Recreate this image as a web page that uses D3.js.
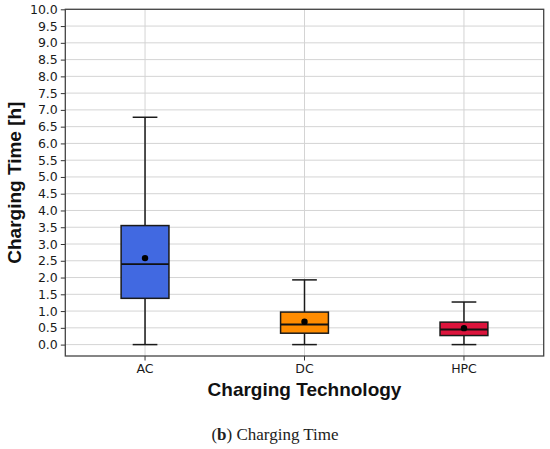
<!DOCTYPE html>
<html>
<head>
<meta charset="utf-8">
<script src="https://cdn.jsdelivr.net/npm/d3@7"></script>
<style>
  html, body { margin: 0; padding: 0; background: #fff; }
  svg { display: block; }
</style>
</head>
<body>
<div id="chart"></div>
<script>
// box plot stats
const categories = ['AC', 'DC', 'HPC'];
const whiskerLow = [0, 0, 0];
const q1 = [1.38, 0.34, 0.27];
const median = [2.40, 0.60, 0.45];
const q3 = [3.55, 0.97, 0.67];
const whiskerHigh = [6.78, 1.93, 1.27];
const means = [2.58, 0.68, 0.49];
const boxColors = ['#4169E1', '#FF8C00', '#DC143C'];
const yTickValues = [0, 0.5, 1, 1.5, 2, 2.5, 3, 3.5, 4, 4.5, 5, 5.5, 6, 6.5, 7, 7.5, 8, 8.5, 9, 9.5, 10];

const width = 550, height = 449;
const plot = { left: 65.3, right: 543.7, top: 9.3, bottom: 356 };

const svg = d3.select('#chart').append('svg')
  .attr('width', width)
  .attr('height', height);

const x = d3.scaleBand()
  .domain(categories)
  .range([plot.left, plot.right])
  .padding(0);

const y = d3.scaleLinear()
  .domain([-0.34, 10])
  .range([plot.bottom, plot.top]);

const cx = c => x(c) + x.bandwidth() / 2;
const boxW = x.bandwidth() * 0.3;
const capW = x.bandwidth() * 0.155;

// Grid
const grid = svg.append('g');
grid.selectAll('.hgrid')
  .data(yTickValues)
  .enter()
  .append('line')
  .attr('x1', plot.left)
  .attr('x2', plot.right)
  .attr('y1', d => y(d))
  .attr('y2', d => y(d))
  .attr('stroke', '#d4d4d4')
  .attr('stroke-width', 1);
grid.selectAll('.vgrid')
  .data(categories)
  .enter()
  .append('line')
  .attr('x1', d => cx(d))
  .attr('x2', d => cx(d))
  .attr('y1', plot.top)
  .attr('y2', plot.bottom)
  .attr('stroke', '#d4d4d4')
  .attr('stroke-width', 1);

// Axes
const yAxis = svg.append('g')
  .attr('transform', `translate(${plot.left},0)`)
  .call(d3.axisLeft(y).tickValues(yTickValues).tickFormat(d3.format('.1f')).tickSize(4.5).tickPadding(3));
const xAxis = svg.append('g')
  .attr('transform', `translate(0,${plot.bottom})`)
  .call(d3.axisBottom(x).tickSize(4.5).tickPadding(3.5));

[yAxis, xAxis].forEach(a => {
  a.select('.domain').remove();
  a.selectAll('text')
    .style('font-family', '"DejaVu Sans", sans-serif')
    .style('font-size', '12.5px')
    .attr('fill', '#1a1a1a');
  a.selectAll('line').attr('stroke', '#333');
});

// Boxes
const boxes = svg.append('g')
  .selectAll('g')
  .data(categories.map((c, i) => ({
    cat: c, lo: whiskerLow[i], q1: q1[i], med: median[i], q3: q3[i],
    hi: whiskerHigh[i], mean: means[i], color: boxColors[i]
  })))
  .enter()
  .append('g');

// whiskers
boxes.append('line')
  .attr('x1', d => cx(d.cat)).attr('x2', d => cx(d.cat))
  .attr('y1', d => y(d.q3)).attr('y2', d => y(d.hi))
  .attr('stroke', '#1a1a1a').attr('stroke-width', 1.5);
boxes.append('line')
  .attr('x1', d => cx(d.cat)).attr('x2', d => cx(d.cat))
  .attr('y1', d => y(d.q1)).attr('y2', d => y(d.lo))
  .attr('stroke', '#1a1a1a').attr('stroke-width', 1.5);
// caps
boxes.append('line')
  .attr('x1', d => cx(d.cat) - capW / 2).attr('x2', d => cx(d.cat) + capW / 2)
  .attr('y1', d => y(d.hi)).attr('y2', d => y(d.hi))
  .attr('stroke', '#1a1a1a').attr('stroke-width', 1.5);
boxes.append('line')
  .attr('x1', d => cx(d.cat) - capW / 2).attr('x2', d => cx(d.cat) + capW / 2)
  .attr('y1', d => y(d.lo)).attr('y2', d => y(d.lo))
  .attr('stroke', '#1a1a1a').attr('stroke-width', 1.5);
// box
boxes.append('rect')
  .attr('x', d => cx(d.cat) - boxW / 2)
  .attr('y', d => y(d.q3))
  .attr('width', boxW)
  .attr('height', d => y(d.q1) - y(d.q3))
  .attr('fill', d => d.color)
  .attr('stroke', '#1a1a1a')
  .attr('stroke-width', 1.5);
// median
boxes.append('line')
  .attr('x1', d => cx(d.cat) - boxW / 2).attr('x2', d => cx(d.cat) + boxW / 2)
  .attr('y1', d => y(d.med)).attr('y2', d => y(d.med))
  .attr('stroke', '#111').attr('stroke-width', 1.8);
// mean
boxes.append('circle')
  .attr('cx', d => cx(d.cat))
  .attr('cy', d => y(d.mean))
  .attr('r', 3.2)
  .attr('fill', '#000');

// Spines
svg.append('rect')
  .attr('x', plot.left)
  .attr('y', plot.top)
  .attr('width', plot.right - plot.left)
  .attr('height', plot.bottom - plot.top)
  .attr('fill', 'none')
  .attr('stroke', '#444')
  .attr('stroke-width', 1.3);

// Axis labels
svg.append('text')
  .attr('x', (plot.left + plot.right) / 2)
  .attr('y', 396)
  .attr('text-anchor', 'middle')
  .style('font-family', '"Liberation Sans", Arial, sans-serif')
  .style('font-weight', 'bold')
  .style('font-size', '19px')
  .attr('fill', '#111')
  .text('Charging Technology');

svg.append('text')
  .attr('transform', `translate(21,${(plot.top + plot.bottom) / 2}) rotate(-90)`)
  .attr('text-anchor', 'middle')
  .style('font-family', '"Liberation Sans", Arial, sans-serif')
  .style('font-weight', 'bold')
  .style('font-size', '19px')
  .attr('fill', '#111')
  .text('Charging Time [h]');

// Caption
const cap = svg.append('text')
  .attr('x', 275)
  .attr('y', 440)
  .attr('text-anchor', 'middle')
  .style('font-family', '"Liberation Serif", "DejaVu Serif", serif')
  .style('font-size', '17px')
  .attr('fill', '#222');
cap.append('tspan').text('(');
cap.append('tspan').style('font-weight', 'bold').text('b');
cap.append('tspan').text(') Charging Time');
</script>
</body>
</html>
